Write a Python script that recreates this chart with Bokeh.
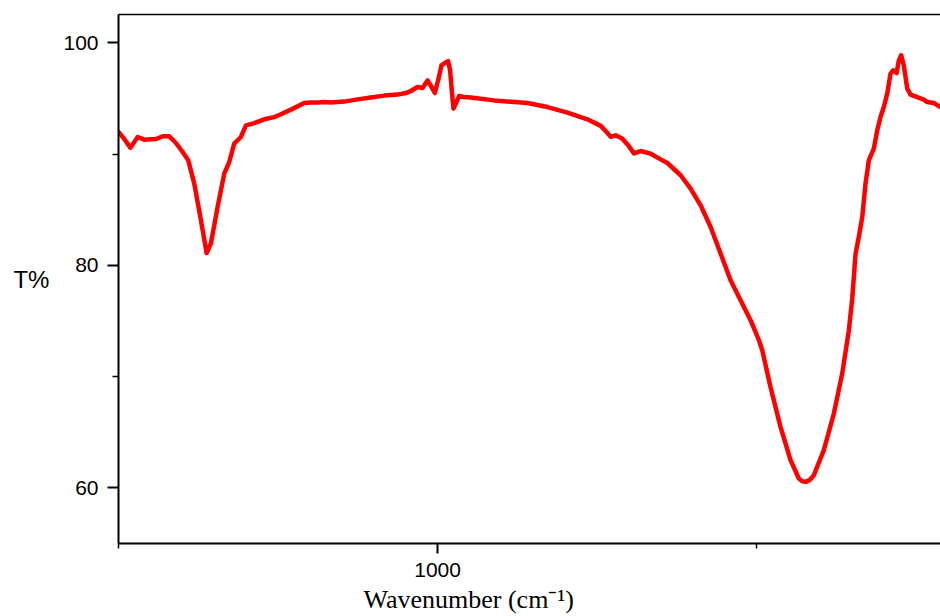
from bokeh.plotting import figure
from bokeh.models import FixedTicker, LinearAxis, Title, Range1d
from bokeh.embed import file_html
from bokeh.resources import INLINE

# FTIR spectrum
wavenumber = [
    500, 507, 518.5, 530.1, 540.4, 550.9, 558.7, 569.2, 579.5, 590.0,
    600.5, 609.3, 618.7, 629.2, 638.1, 644.8, 655.3, 665.7, 673.5, 681.3,
    691.8, 699.7, 712.7, 728.3, 744.0, 754.5, 770.1, 780.6, 791.0, 801.4,
    811.9, 822.3, 832.8, 853.6, 874.6, 895.4, 916.2, 937.2, 950.2, 958.0,
    968.5, 976.4, 984.2, 990.5, 995.6, 1001.4, 1006.1, 1011.3, 1016.4, 1019.6,
    1022.2, 1024.9, 1028.5, 1033.7, 1041.5, 1052.0, 1088.5, 1140.8, 1172.1, 1203.4,
    1234.7, 1255.6, 1266.1, 1271.2, 1279.1, 1289.5, 1299.9, 1307.7, 1318.2, 1333.8,
    1349.5, 1360.0, 1380.8, 1396.4, 1412.1, 1427.8, 1443.4, 1459.1, 1474.7, 1490.4,
    1503.5, 1508.7, 1521.6, 1537.3, 1553.0, 1566.0, 1571.5, 1576.6, 1583.0, 1589.6,
    1605.2, 1620.9,
    1634.0, 1644.4, 1649.7, 1654.9, 1660.0, 1665.4, 1670.5, 1675.7, 1683.5, 1688.9,
    1694.0, 1699.2, 1704.5, 1709.7, 1713.9, 1719.2, 1722.7, 1726.4, 1730.5, 1735.9,
    1741.0, 1751.5, 1761.8, 1767.2, 1777.5, 1788.0, 1795.0,
]
transmittance = [
    91.99, 91.51, 90.58, 91.54, 91.30, 91.33, 91.36, 91.60, 91.60, 91.00,
    90.19, 89.44, 87.35, 84.05, 81.11, 81.99, 85.25, 88.25, 89.29, 90.94,
    91.54, 92.59, 92.79, 93.13, 93.33, 93.58, 94.00, 94.29, 94.59, 94.65,
    94.63, 94.68, 94.63, 94.72, 94.92, 95.08, 95.26, 95.35, 95.49, 95.67,
    96.03, 95.94, 96.63, 96.03, 95.49, 96.78, 97.98, 98.19, 98.36, 97.53,
    95.73, 94.09, 94.54, 95.22, 95.13, 95.08, 94.83, 94.59, 94.23, 93.73,
    93.13, 92.54, 91.90, 91.55, 91.69, 91.39, 90.70, 90.07, 90.28, 90.04,
    89.53, 89.20, 88.10, 86.90, 85.40, 83.45, 81.06, 78.66, 76.86, 75.07,
    73.27, 72.37, 69.07, 65.48, 62.49, 60.84, 60.60, 60.54, 60.70, 61.14,
    63.39, 66.68,
    70.28, 74.17, 77.02, 81.06, 82.55, 84.35, 87.35, 89.44, 90.49, 92.14,
    93.33, 94.23, 95.44, 97.23, 97.53, 97.29, 98.43, 98.88, 97.98, 95.89,
    95.35, 95.13, 94.90, 94.68, 94.59, 94.23, 94.0,
]

x_major_ticks = [1000]
x_minor_ticks = [500, 1500]
y_major_ticks = [60, 80, 100]
y_minor_ticks = [70, 90]
x_title = "Wavenumber (cm\u207b\u00b9)"
y_title = "T%"

p = figure(width=940, height=616, output_backend="svg", toolbar_location=None,
           x_range=Range1d(500, 1788), y_range=Range1d(55, 102.55),
           min_border_left=118, min_border_right=0, min_border_top=14,
           min_border_bottom=73)
p.outline_line_color = None
p.grid.visible = False
p.background_fill_color = "white"
p.border_fill_color = "white"

p.line(wavenumber, transmittance, line_color="#FF0000", line_width=4.5,
       line_join="round", line_cap="round")

# y axis
ya = p.yaxis[0]
ya.ticker = FixedTicker(ticks=y_major_ticks, minor_ticks=y_minor_ticks)
ya.axis_label = y_title
ya.axis_label_orientation = "horizontal"
ya.axis_label_text_font = "Liberation Sans"
ya.axis_label_text_font_style = "normal"
ya.axis_label_text_font_size = "24px"
ya.axis_label_text_color = "black"
ya.axis_label_standoff = 11
ya.major_label_text_font = "Liberation Sans"
ya.major_label_text_font_size = "21px"
ya.major_label_text_color = "black"
ya.major_label_standoff = 9
ya.major_tick_out = 11
ya.major_tick_in = 0
ya.minor_tick_out = 6
ya.minor_tick_in = 0
ya.axis_line_width = 2
ya.major_tick_line_width = 2
ya.minor_tick_line_width = 1.5
ya.axis_line_color = "black"
ya.major_tick_line_color = "black"
ya.minor_tick_line_color = "black"

# x axis
xa = p.xaxis[0]
xa.ticker = FixedTicker(ticks=x_major_ticks, minor_ticks=x_minor_ticks)
xa.major_label_text_font = "Liberation Sans"
xa.major_label_text_font_size = "21px"
xa.major_label_text_color = "black"
xa.major_label_standoff = 9
xa.major_tick_out = 10
xa.major_tick_in = 0
xa.minor_tick_out = 5
xa.minor_tick_in = 0
xa.axis_line_width = 2
xa.major_tick_line_width = 2
xa.minor_tick_line_width = 1.5
xa.axis_line_color = "black"
xa.major_tick_line_color = "black"
xa.minor_tick_line_color = "black"

# top frame line
top = LinearAxis(ticker=FixedTicker(ticks=[]), major_tick_line_color=None,
                 minor_tick_line_color=None, major_label_text_font_size="0px",
                 axis_line_width=1.3, axis_line_color="black")
p.add_layout(top, "above")

# x axis title (placed as a title below the axis, left-aligned with an offset)
p.add_layout(Title(text=x_title, align="left", offset=245,
                   text_font="Liberation Serif", text_font_size="26px",
                   text_font_style="normal", text_color="black", standoff=6),
             "below")

open("out.html", "w").write(file_html(p, INLINE))
